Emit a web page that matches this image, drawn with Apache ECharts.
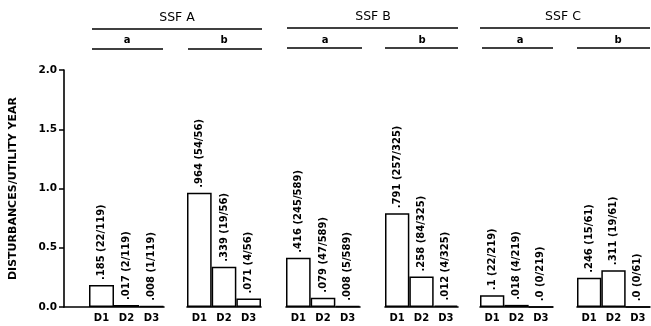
<!DOCTYPE html>
<html>
<head>
<meta charset="utf-8">
<script src="https://cdn.jsdelivr.net/npm/echarts@6/dist/echarts.min.js"></script>
<style>
html,body{margin:0;padding:0;background:#fff;}
#chart{width:651px;height:326px;}
</style>
</head>
<body>
<div id="chart"></div>
<script>
// ---- data ----
const categories = ['D1', 'D2', 'D3'];
const groupNames = ['SSF A', 'SSF B', 'SSF C'];
const subNames = ['a', 'b'];
const yTicks = [0, 0.5, 1.0, 1.5, 2.0];

const valuesAa = [0.185, 0.017, 0.008];
const labelsAa = ['.185 (22/119)', '.017 (2/119)', '.008 (1/119)'];
const valuesAb = [0.964, 0.339, 0.071];
const labelsAb = ['.964 (54/56)', '.339 (19/56)', '.071 (4/56)'];
const valuesBa = [0.416, 0.079, 0.008];
const labelsBa = ['.416 (245/589)', '.079 (47/589)', '.008 (5/589)'];
const valuesBb = [0.791, 0.258, 0.012];
const labelsBb = ['.791 (257/325)', '.258 (84/325)', '.012 (4/325)'];
const valuesCa = [0.1, 0.018, 0.0];
const labelsCa = ['.1 (22/219)', '.018 (4/219)', '.0 (0/219)'];
const valuesCb = [0.246, 0.311, 0.0];
const labelsCb = ['.246 (15/61)', '.311 (19/61)', '.0 (0/61)'];

// ---- layout ----
const FONT = 'DejaVu Sans';
const TOP = 70, HEIGHT = 237;
const panels = [
  {left: 64,  width: 100, values: valuesAa, labels: labelsAa, pad: true},
  {left: 187, width: 74,  values: valuesAb, labels: labelsAb},
  {left: 286, width: 74,  values: valuesBa, labels: labelsBa},
  {left: 385, width: 73,  values: valuesBb, labels: labelsBb},
  {left: 480, width: 73,  values: valuesCa, labels: labelsCa},
  {left: 577, width: 73,  values: valuesCb, labels: labelsCb}
];

const grids = [], xAxes = [], yAxes = [], series = [];
panels.forEach((p, i) => {
  grids.push({left: p.left, top: TOP, width: p.width, height: HEIGHT});
  const cats = p.pad ? [''].concat(categories) : categories.slice();
  xAxes.push({
    type: 'category', gridIndex: i, data: cats,
    axisLine: {show: true, lineStyle: {color: '#000', width: 1.6}},
    axisTick: {show: false},
    axisLabel: {color: '#000', fontFamily: FONT, fontWeight: 'bold', fontSize: 10, margin: 6, interval: 0}
  });
  yAxes.push({
    type: 'value', gridIndex: i, min: yTicks[0], max: yTicks[yTicks.length - 1], interval: 0.5,
    show: i === 0,
    name: i === 0 ? 'DISTURBANCES/UTILITY YEAR' : '',
    nameLocation: 'middle', nameGap: 45,
    nameTextStyle: {color: '#000', fontFamily: FONT, fontWeight: 'bold', fontSize: 11},
    axisLine: {show: true, lineStyle: {color: '#000', width: 1.6}},
    axisTick: {show: true, length: 5, lineStyle: {color: '#000', width: 1.5}},
    axisLabel: {color: '#000', fontFamily: FONT, fontWeight: 'bold', fontSize: 10.5, margin: 7,
      formatter: v => v.toFixed(1)},
    splitLine: {show: false}
  });
  const vals = p.pad ? ['-'].concat(p.values) : p.values.slice();
  const labs = p.pad ? [''].concat(p.labels) : p.labels.slice();
  series.push({
    type: 'bar', xAxisIndex: i, yAxisIndex: i, data: vals, barWidth: '100%',
    itemStyle: {color: '#fff', borderColor: '#000', borderWidth: 1.5},
    label: {
      show: true, position: 'top', rotate: 90, align: 'left', verticalAlign: 'middle', distance: 5,
      color: '#000', fontFamily: FONT, fontWeight: 'bold', fontSize: 10,
      formatter: prm => labs[prm.dataIndex]
    },
    silent: true, animation: false
  });
});

// header decorations (group and sub-group captions with rules)
function hText(x, y, t, size) {
  return {type: 'text', x: x, y: y, style: {text: t, x: 0, y: 0, fill: '#000', font: size + 'px "' + FONT + '"', align: 'center', verticalAlign: 'middle'}};
}
function hLine(x1, x2, y) {
  return {type: 'line', shape: {x1: x1, y1: y, x2: x2, y2: y}, style: {stroke: '#000', lineWidth: 1.5}};
}
const graphic = [
  hText(177, 18, groupNames[0], 12.5), hLine(92, 262, 29),
  hText(127, 40, subNames[0], 'bold 10'), hLine(92, 163, 49),
  hText(224, 40, subNames[1], 'bold 10'), hLine(188, 262, 49),
  hText(373, 17, groupNames[1], 12.5), hLine(287, 458, 28),
  hText(325, 40, subNames[0], 'bold 10'), hLine(287, 362, 48),
  hText(422, 40, subNames[1], 'bold 10'), hLine(385, 458, 48),
  hText(563, 17, groupNames[2], 12.5), hLine(480, 650, 28),
  hText(520, 40, subNames[0], 'bold 10'), hLine(482, 553, 48),
  hText(618, 40, subNames[1], 'bold 10'), hLine(577, 650, 48)
];

const chart = echarts.init(document.getElementById('chart'), null, {renderer: 'canvas'});
chart.setOption({
  animation: false,
  backgroundColor: '#fff',
  grid: grids, xAxis: xAxes, yAxis: yAxes, series: series,
  graphic: graphic
});
</script>
</body>
</html>
